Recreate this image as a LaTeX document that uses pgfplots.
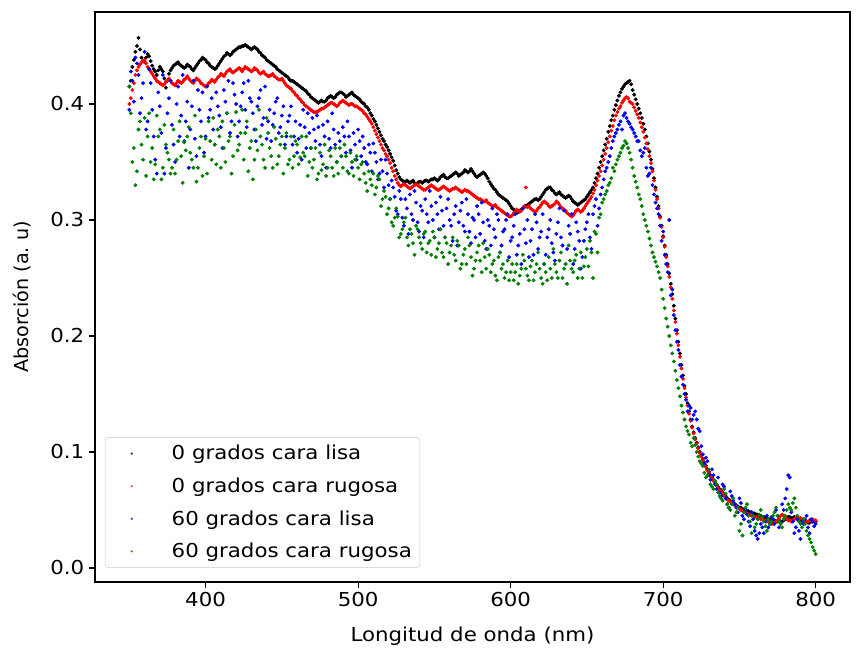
\documentclass[border=0pt]{standalone}
\usepackage{fontspec}
\setmainfont{DejaVu Sans}[FakeStretch=1.11]
\newfontfamily\yfont{DejaVu Sans}
\usepackage{pgfplots}
\usepackage{pgfplotstable}
\pgfplotsset{compat=1.18}
\definecolor{mplgreen}{RGB}{0,128,0}
\definecolor{mplred}{RGB}{255,0,0}
\definecolor{mplblue}{RGB}{0,0,255}
\pgfplotstableread{
x k r b g
350 0.415 0.400 0.395 0.415
352 0.432 0.412 0.420 0.350
354 0.445 0.425 0.440 0.330
356 0.457 0.432 0.425 0.378
358 0.440 0.436 0.405 0.365
360 0.436 0.438 0.445 0.388
362 0.443 0.432 0.385 0.372
364 0.437 0.428 0.418 0.350
366 0.430 0.424 0.372 0.335
368 0.425 0.420 0.340 0.390
370 0.432 0.418 0.398 0.378
372 0.428 0.416 0.425 0.345
374 0.414 0.419 0.362 0.365
376 0.426 0.422 0.405 0.352
378 0.431 0.418 0.382 0.345
380 0.434 0.416 0.350 0.340
382 0.436 0.420 0.415 0.368
384 0.433 0.418 0.390 0.355
386 0.431 0.421 0.368 0.367
388 0.434 0.424 0.402 0.372
390 0.432 0.420 0.378 0.358
392 0.429 0.418 0.420 0.345
394 0.433 0.422 0.355 0.333
396 0.437 0.420 0.395 0.362
398 0.440 0.417 0.410 0.338
400 0.438 0.415 0.372 0.370
402 0.435 0.418 0.388 0.385
404 0.432 0.421 0.405 0.352
406 0.430 0.419 0.365 0.365
408 0.433 0.423 0.398 0.378
410 0.437 0.426 0.380 0.345
412 0.441 0.424 0.412 0.362
414 0.444 0.428 0.392 0.392
416 0.442 0.430 0.375 0.372
418 0.445 0.427 0.418 0.355
420 0.447 0.429 0.400 0.393
422 0.449 0.431 0.385 0.365
424 0.450 0.428 0.410 0.395
426 0.451 0.432 0.395 0.375
428 0.449 0.430 0.420 0.342
430 0.447 0.428 0.402 0.368
432 0.449 0.431 0.378 0.352
434 0.447 0.429 0.398 0.360
436 0.444 0.426 0.412 0.372
438 0.441 0.428 0.388 0.352
440 0.438 0.425 0.370 0.388
442 0.436 0.424 0.395 0.362
444 0.434 0.426 0.382 0.345
446 0.432 0.423 0.402 0.370
448 0.429 0.421 0.375 0.355
450 0.427 0.422 0.390 0.372
452 0.425 0.418 0.365 0.362
454 0.423 0.415 0.385 0.348
456 0.420 0.413 0.398 0.372
458 0.419 0.410 0.372 0.355
460 0.417 0.407 0.358 0.365
462 0.415 0.404 0.382 0.354
464 0.413 0.401 0.395 0.358
466 0.411 0.398 0.362 0.372
468 0.408 0.396 0.375 0.350
470 0.405 0.394 0.388 0.345
472 0.403 0.393 0.368 0.362
474 0.401 0.394 0.380 0.340
476 0.403 0.396 0.355 0.343
478 0.402 0.397 0.372 0.365
480 0.405 0.399 0.385 0.345
482 0.407 0.401 0.362 0.355
484 0.405 0.400 0.378 0.338
486 0.408 0.398 0.350 0.350
488 0.410 0.401 0.368 0.362
490 0.409 0.403 0.380 0.345
492 0.406 0.401 0.358 0.355
494 0.408 0.399 0.372 0.340
496 0.410 0.400 0.345 0.350
498 0.407 0.398 0.365 0.352
500 0.405 0.397 0.378 0.345
502 0.402 0.395 0.355 0.348
504 0.400 0.392 0.362 0.340
506 0.397 0.389 0.348 0.325
508 0.392 0.385 0.358 0.335
510 0.387 0.380 0.366 0.340
512 0.382 0.374 0.350 0.328
514 0.376 0.368 0.340 0.335
516 0.370 0.362 0.342 0.318
518 0.365 0.357 0.352 0.320
520 0.360 0.352 0.330 0.310
522 0.354 0.345 0.334 0.298
524 0.347 0.338 0.320 0.302
526 0.340 0.332 0.305 0.303
528 0.335 0.329 0.318 0.288
530 0.333 0.331 0.295 0.298
532 0.334 0.329 0.310 0.285
534 0.332 0.327 0.322 0.292
536 0.334 0.329 0.300 0.280
538 0.331 0.331 0.315 0.295
540 0.333 0.329 0.290 0.285
542 0.332 0.327 0.308 0.275
544 0.334 0.326 0.318 0.290
546 0.333 0.328 0.298 0.280
548 0.335 0.330 0.312 0.270
550 0.336 0.328 0.285 0.285
552 0.334 0.326 0.305 0.275
554 0.337 0.327 0.320 0.292
556 0.339 0.329 0.295 0.268
558 0.336 0.327 0.310 0.280
560 0.337 0.325 0.300 0.272
562 0.339 0.327 0.282 0.285
564 0.341 0.328 0.312 0.265
566 0.338 0.326 0.298 0.278
568 0.340 0.324 0.315 0.262
570 0.343 0.326 0.290 0.275
572 0.341 0.325 0.305 0.285
574 0.344 0.323 0.280 0.268
576 0.340 0.321 0.300 0.258
578 0.337 0.319 0.312 0.272
580 0.339 0.318 0.288 0.265
582 0.341 0.316 0.298 0.280
584 0.338 0.317 0.275 0.258
586 0.333 0.314 0.295 0.270
588 0.329 0.312 0.310 0.262
590 0.326 0.313 0.285 0.252
592 0.322 0.310 0.300 0.268
594 0.320 0.308 0.278 0.258
596 0.318 0.306 0.292 0.250
598 0.316 0.304 0.305 0.265
600 0.312 0.303 0.282 0.255
602 0.309 0.306 0.295 0.248
604 0.306 0.309 0.270 0.262
606 0.308 0.307 0.288 0.252
608 0.310 0.310 0.310 0.270
610 0.312 0.328 0.280 0.258
612 0.314 0.312 0.268 0.248
614 0.316 0.309 0.292 0.265
616 0.318 0.307 0.305 0.255
618 0.317 0.310 0.275 0.272
620 0.320 0.313 0.290 0.250
622 0.324 0.316 0.262 0.262
624 0.327 0.314 0.285 0.248
626 0.328 0.311 0.300 0.258
628 0.325 0.313 0.272 0.275
630 0.322 0.316 0.288 0.255
632 0.324 0.313 0.310 0.265
634 0.321 0.310 0.278 0.250
636 0.319 0.308 0.262 0.262
638 0.321 0.305 0.295 0.278
640 0.318 0.303 0.305 0.258
642 0.315 0.306 0.275 0.265
644 0.313 0.309 0.290 0.250
646 0.315 0.307 0.258 0.272
648 0.317 0.310 0.282 0.260
650 0.320 0.314 0.298 0.275
652 0.324 0.318 0.285 0.282
654 0.328 0.323 0.305 0.250
656 0.336 0.330 0.318 0.288
658 0.345 0.338 0.310 0.302
660 0.355 0.347 0.328 0.315
662 0.365 0.357 0.342 0.322
664 0.376 0.367 0.350 0.330
666 0.386 0.377 0.362 0.336
668 0.395 0.386 0.372 0.342
670 0.403 0.393 0.378 0.352
672 0.410 0.398 0.385 0.358
674 0.415 0.403 0.390 0.364
676 0.418 0.406 0.388 0.366
678 0.420 0.402 0.383 0.358
680 0.412 0.400 0.378 0.345
682 0.404 0.394 0.372 0.333
684 0.396 0.388 0.368 0.322
686 0.388 0.380 0.355 0.312
688 0.378 0.371 0.362 0.300
690 0.366 0.361 0.338 0.290
692 0.352 0.349 0.345 0.278
694 0.336 0.334 0.322 0.268
696 0.320 0.318 0.310 0.260
698 0.303 0.302 0.295 0.250
700 0.286 0.285 0.290 0.232
702 0.270 0.268 0.262 0.215
704 0.254 0.251 0.300 0.200
706 0.236 0.232 0.240 0.185
708 0.215 0.212 0.205 0.170
710 0.195 0.192 0.188 0.155
712 0.175 0.172 0.165 0.140
714 0.157 0.155 0.150 0.128
716 0.142 0.140 0.135 0.118
718 0.128 0.127 0.138 0.108
720 0.117 0.116 0.132 0.112
722 0.108 0.107 0.128 0.100
724 0.100 0.099 0.118 0.092
726 0.094 0.093 0.098 0.088
728 0.088 0.087 0.095 0.078
730 0.083 0.082 0.080 0.085
732 0.078 0.077 0.085 0.070
734 0.074 0.073 0.072 0.075
736 0.070 0.069 0.078 0.065
738 0.067 0.066 0.062 0.060
740 0.063 0.062 0.070 0.068
742 0.060 0.059 0.055 0.055
744 0.058 0.057 0.066 0.050
746 0.056 0.055 0.058 0.060
748 0.054 0.053 0.052 0.048
750 0.052 0.051 0.060 0.032
752 0.051 0.049 0.045 0.028
754 0.050 0.048 0.050 0.052
756 0.049 0.046 0.040 0.045
758 0.048 0.045 0.048 0.030
760 0.047 0.044 0.032 0.035
762 0.046 0.043 0.025 0.042
764 0.045 0.042 0.038 0.050
766 0.044 0.041 0.030 0.040
768 0.043 0.040 0.045 0.032
770 0.042 0.039 0.038 0.038
772 0.041 0.038 0.042 0.045
774 0.040 0.040 0.050 0.052
776 0.041 0.043 0.035 0.040
778 0.040 0.046 0.055 0.035
780 0.042 0.044 0.060 0.045
782 0.044 0.041 0.080 0.055
784 0.043 0.040 0.048 0.050
786 0.044 0.042 0.030 0.060
788 0.042 0.044 0.042 0.045
790 0.041 0.043 0.025 0.038
792 0.040 0.041 0.038 0.042
794 0.040 0.040 0.045 0.032
796 0.039 0.041 0.030 0.025
798 0.040 0.042 0.040 0.018
800 0.040 0.041 0.038 0.012
351 0.420 0.405 0.428 0.392
353 0.438 0.418 0.402 0.362
355 0.450 0.429 0.435 0.342
357 0.447 0.434 0.392 0.385
359 0.437 0.437 0.418 0.352
361 0.440 0.435 0.378 0.338
363 0.441 0.430 0.430 0.392
365 0.433 0.426 0.395 0.362
367 0.428 0.422 0.352 0.348
369 0.429 0.419 0.410 0.372
371 0.430 0.417 0.375 0.335
373 0.422 0.417 0.340 0.382
375 0.420 0.420 0.392 0.358
377 0.429 0.420 0.420 0.340
379 0.433 0.417 0.365 0.378
381 0.435 0.418 0.400 0.352
383 0.434 0.419 0.372 0.385
385 0.432 0.419 0.425 0.332
387 0.432 0.422 0.385 0.360
389 0.433 0.422 0.345 0.380
391 0.430 0.419 0.398 0.352
393 0.431 0.420 0.370 0.390
395 0.435 0.421 0.412 0.345
397 0.438 0.418 0.385 0.372
399 0.439 0.416 0.358 0.355
401 0.436 0.416 0.415 0.340
403 0.433 0.419 0.395 0.368
405 0.431 0.420 0.378 0.388
407 0.431 0.421 0.410 0.348
409 0.435 0.424 0.390 0.372
411 0.439 0.425 0.362 0.385
413 0.442 0.426 0.402 0.350
415 0.443 0.429 0.420 0.368
417 0.443 0.428 0.385 0.340
419 0.446 0.428 0.408 0.382
421 0.448 0.430 0.372 0.360
423 0.449 0.430 0.398 0.375
425 0.450 0.430 0.418 0.352
427 0.450 0.431 0.380 0.385
429 0.448 0.429 0.405 0.362
431 0.448 0.429 0.392 0.335
433 0.448 0.430 0.368 0.378
435 0.445 0.427 0.405 0.395
437 0.442 0.427 0.382 0.365
439 0.440 0.426 0.415 0.345
441 0.437 0.424 0.385 0.375
443 0.435 0.425 0.368 0.355
445 0.433 0.424 0.392 0.380
447 0.430 0.422 0.405 0.348
449 0.428 0.421 0.380 0.365
451 0.426 0.420 0.398 0.340
453 0.424 0.416 0.372 0.375
455 0.421 0.414 0.390 0.352
457 0.420 0.411 0.365 0.345
459 0.418 0.408 0.385 0.368
461 0.416 0.405 0.370 0.348
463 0.414 0.402 0.352 0.372
465 0.412 0.399 0.380 0.355
467 0.409 0.397 0.392 0.338
469 0.406 0.395 0.362 0.362
471 0.404 0.393 0.378 0.352
473 0.402 0.393 0.390 0.335
475 0.402 0.395 0.365 0.358
477 0.402 0.396 0.382 0.348
479 0.403 0.398 0.345 0.338
481 0.406 0.400 0.370 0.360
483 0.406 0.401 0.392 0.345
485 0.406 0.399 0.365 0.362
487 0.409 0.399 0.375 0.340
489 0.410 0.402 0.355 0.355
491 0.408 0.402 0.372 0.365
493 0.407 0.400 0.385 0.342
495 0.409 0.400 0.360 0.358
497 0.408 0.399 0.375 0.338
499 0.406 0.398 0.352 0.355
501 0.404 0.396 0.368 0.335
503 0.401 0.394 0.372 0.350
505 0.398 0.391 0.350 0.332
507 0.395 0.387 0.365 0.342
509 0.390 0.383 0.342 0.330
511 0.385 0.377 0.358 0.322
513 0.379 0.371 0.335 0.338
515 0.373 0.365 0.352 0.312
517 0.368 0.360 0.328 0.325
519 0.363 0.355 0.340 0.305
521 0.357 0.349 0.318 0.318
523 0.351 0.342 0.328 0.295
525 0.343 0.335 0.308 0.310
527 0.337 0.330 0.325 0.285
529 0.334 0.330 0.302 0.292
531 0.333 0.330 0.318 0.302
533 0.333 0.328 0.288 0.278
535 0.333 0.328 0.305 0.288
537 0.332 0.330 0.325 0.270
539 0.332 0.330 0.298 0.292
541 0.333 0.328 0.312 0.280
543 0.333 0.326 0.285 0.288
545 0.334 0.327 0.305 0.272
547 0.334 0.329 0.325 0.282
549 0.335 0.329 0.300 0.290
551 0.335 0.327 0.315 0.268
553 0.335 0.326 0.292 0.280
555 0.338 0.328 0.308 0.272
557 0.337 0.328 0.285 0.285
559 0.336 0.326 0.318 0.262
561 0.338 0.326 0.295 0.278
563 0.340 0.327 0.305 0.270
565 0.340 0.327 0.278 0.282
567 0.339 0.325 0.308 0.258
569 0.341 0.325 0.295 0.270
571 0.342 0.325 0.318 0.262
573 0.342 0.324 0.290 0.278
575 0.342 0.322 0.302 0.252
577 0.338 0.320 0.285 0.265
579 0.338 0.318 0.305 0.278
581 0.340 0.317 0.315 0.255
583 0.340 0.316 0.282 0.268
585 0.336 0.315 0.300 0.275
587 0.331 0.313 0.278 0.255
589 0.327 0.312 0.292 0.265
591 0.324 0.311 0.305 0.248
593 0.321 0.309 0.272 0.272
595 0.319 0.307 0.290 0.262
597 0.317 0.305 0.300 0.255
599 0.314 0.303 0.268 0.248
601 0.310 0.304 0.285 0.262
603 0.307 0.307 0.305 0.255
605 0.307 0.308 0.278 0.245
607 0.309 0.308 0.262 0.258
609 0.311 0.312 0.292 0.265
611 0.313 0.311 0.300 0.252
613 0.315 0.310 0.282 0.260
615 0.317 0.308 0.270 0.248
617 0.318 0.308 0.298 0.262
619 0.318 0.311 0.285 0.258
621 0.322 0.315 0.305 0.245
623 0.326 0.315 0.270 0.255
625 0.328 0.312 0.292 0.268
627 0.326 0.312 0.280 0.250
629 0.323 0.314 0.265 0.262
631 0.323 0.315 0.298 0.250
633 0.322 0.311 0.285 0.272
635 0.320 0.309 0.308 0.258
637 0.320 0.306 0.275 0.245
639 0.320 0.304 0.288 0.265
641 0.316 0.304 0.262 0.255
643 0.314 0.308 0.298 0.270
645 0.314 0.308 0.282 0.258
647 0.316 0.308 0.268 0.250
649 0.318 0.312 0.292 0.268
651 0.322 0.316 0.305 0.260
653 0.326 0.320 0.275 0.272
655 0.332 0.326 0.312 0.290
657 0.340 0.334 0.295 0.272
659 0.350 0.342 0.322 0.305
661 0.360 0.352 0.335 0.318
663 0.370 0.362 0.345 0.325
665 0.381 0.372 0.355 0.332
667 0.390 0.381 0.368 0.345
669 0.399 0.390 0.375 0.348
671 0.407 0.396 0.382 0.355
673 0.413 0.401 0.378 0.362
675 0.417 0.405 0.392 0.368
677 0.419 0.405 0.385 0.362
679 0.417 0.401 0.380 0.352
681 0.408 0.397 0.375 0.338
683 0.400 0.391 0.368 0.328
685 0.392 0.384 0.360 0.318
687 0.383 0.376 0.358 0.305
689 0.372 0.366 0.345 0.295
691 0.359 0.355 0.340 0.284
693 0.344 0.342 0.330 0.272
695 0.328 0.326 0.315 0.264
697 0.312 0.310 0.305 0.255
699 0.295 0.294 0.282 0.240
701 0.278 0.277 0.270 0.224
703 0.262 0.260 0.255 0.208
705 0.245 0.242 0.235 0.192
707 0.226 0.222 0.218 0.178
709 0.205 0.202 0.195 0.162
711 0.185 0.182 0.175 0.148
713 0.166 0.163 0.158 0.134
715 0.150 0.147 0.145 0.122
717 0.135 0.133 0.140 0.115
719 0.122 0.121 0.128 0.105
721 0.112 0.111 0.135 0.106
723 0.104 0.103 0.120 0.096
725 0.097 0.096 0.105 0.090
727 0.091 0.090 0.090 0.082
729 0.085 0.084 0.092 0.080
731 0.080 0.079 0.076 0.072
733 0.076 0.075 0.080 0.068
735 0.072 0.071 0.068 0.072
737 0.068 0.067 0.065 0.062
739 0.065 0.064 0.072 0.058
741 0.062 0.060 0.060 0.064
743 0.059 0.058 0.052 0.052
745 0.057 0.056 0.062 0.055
747 0.055 0.054 0.055 0.045
749 0.053 0.052 0.048 0.052
751 0.052 0.050 0.056 0.038
753 0.050 0.049 0.042 0.048
755 0.049 0.047 0.046 0.055
757 0.048 0.046 0.036 0.040
759 0.047 0.045 0.042 0.045
761 0.046 0.044 0.028 0.038
763 0.045 0.043 0.030 0.046
765 0.044 0.042 0.035 0.044
767 0.043 0.041 0.040 0.036
769 0.042 0.040 0.035 0.042
771 0.041 0.038 0.044 0.040
773 0.041 0.039 0.038 0.048
775 0.040 0.041 0.045 0.045
777 0.040 0.045 0.040 0.038
779 0.041 0.045 0.050 0.042
781 0.043 0.042 0.068 0.050
783 0.044 0.041 0.078 0.052
785 0.043 0.041 0.040 0.056
787 0.043 0.043 0.035 0.052
789 0.041 0.043 0.032 0.040
791 0.040 0.042 0.040 0.035
793 0.040 0.040 0.042 0.038
795 0.039 0.040 0.035 0.028
797 0.040 0.041 0.042 0.022
799 0.040 0.041 0.036 0.015
}\datatab

\begin{document}
\begin{tikzpicture}[font=\fontsize{14.4pt}{17.3pt}\selectfont]
\begin{axis}[
  scale only axis,
  width=566.25pt, height=427.5pt,
  xmin=327.5, xmax=822.5,
  ymin=-0.0121, ymax=0.4793,
  xtick={400,500,600,700,800},
  ytick={0,0.1,0.2,0.3,0.4},
  /pgf/number format/assume math mode=true,
  yticklabel style={/pgf/number format/.cd, fixed, fixed zerofill, precision=1},
  xtick pos=bottom, ytick pos=left,
  tick align=outside,
  major tick length=4.5pt,
  every tick/.style={black, line width=0.8pt},
  axis line style={line width=0.8pt},
  xlabel={Longitud de onda (nm)},
  ylabel={Absorción (a.\ u)},
  xlabel style={at={(axis description cs:0.5,-0.0947)}, anchor=center},
  ylabel style={at={(axis description cs:-0.0967,0.5)}, anchor=center, font=\yfont\fontsize{14.4pt}{17.3pt}\selectfont},
  legend cell align=left,
  legend style={at={(axis description cs:0.013,0.0246)}, anchor=south west,
    draw=black!20, rounded corners=2.5pt, fill=white, fill opacity=0.8, text opacity=1,
    row sep=8pt, inner xsep=4pt, inner ysep=4pt},
  every axis plot/.append style={only marks, mark=*, mark size=1.25pt,
    legend image code/.code={\path[draw=none, fill=none] (0pt,0pt) -- (44pt,0pt); \fill[##1, draw=none] (16pt,0pt) circle (0.9pt);}},
]
\addplot[black, mark options={draw=black, fill=black}] table[x=x, y=k] {\datatab};
\addlegendentry{0 grados cara lisa}
\addplot[mplred, mark options={draw=mplred, fill=mplred}] table[x=x, y=r] {\datatab};
\addlegendentry{0 grados cara rugosa}
\addplot[mplblue, mark options={draw=mplblue, fill=mplblue}] table[x=x, y=b] {\datatab};
\addlegendentry{60 grados cara lisa}
\addplot[mplgreen, mark options={draw=mplgreen, fill=mplgreen}] table[x=x, y=g] {\datatab};
\addlegendentry{60 grados cara rugosa}
\coordinate (SW) at (rel axis cs:0,0);
\coordinate (NE) at (rel axis cs:1,1);
\end{axis}
\pgfresetboundingbox
\path[use as bounding box] ([shift={(-71.25pt,-51.75pt)}]SW) rectangle ([shift={(4.5pt,9pt)}]NE);
\end{tikzpicture}
\end{document}
